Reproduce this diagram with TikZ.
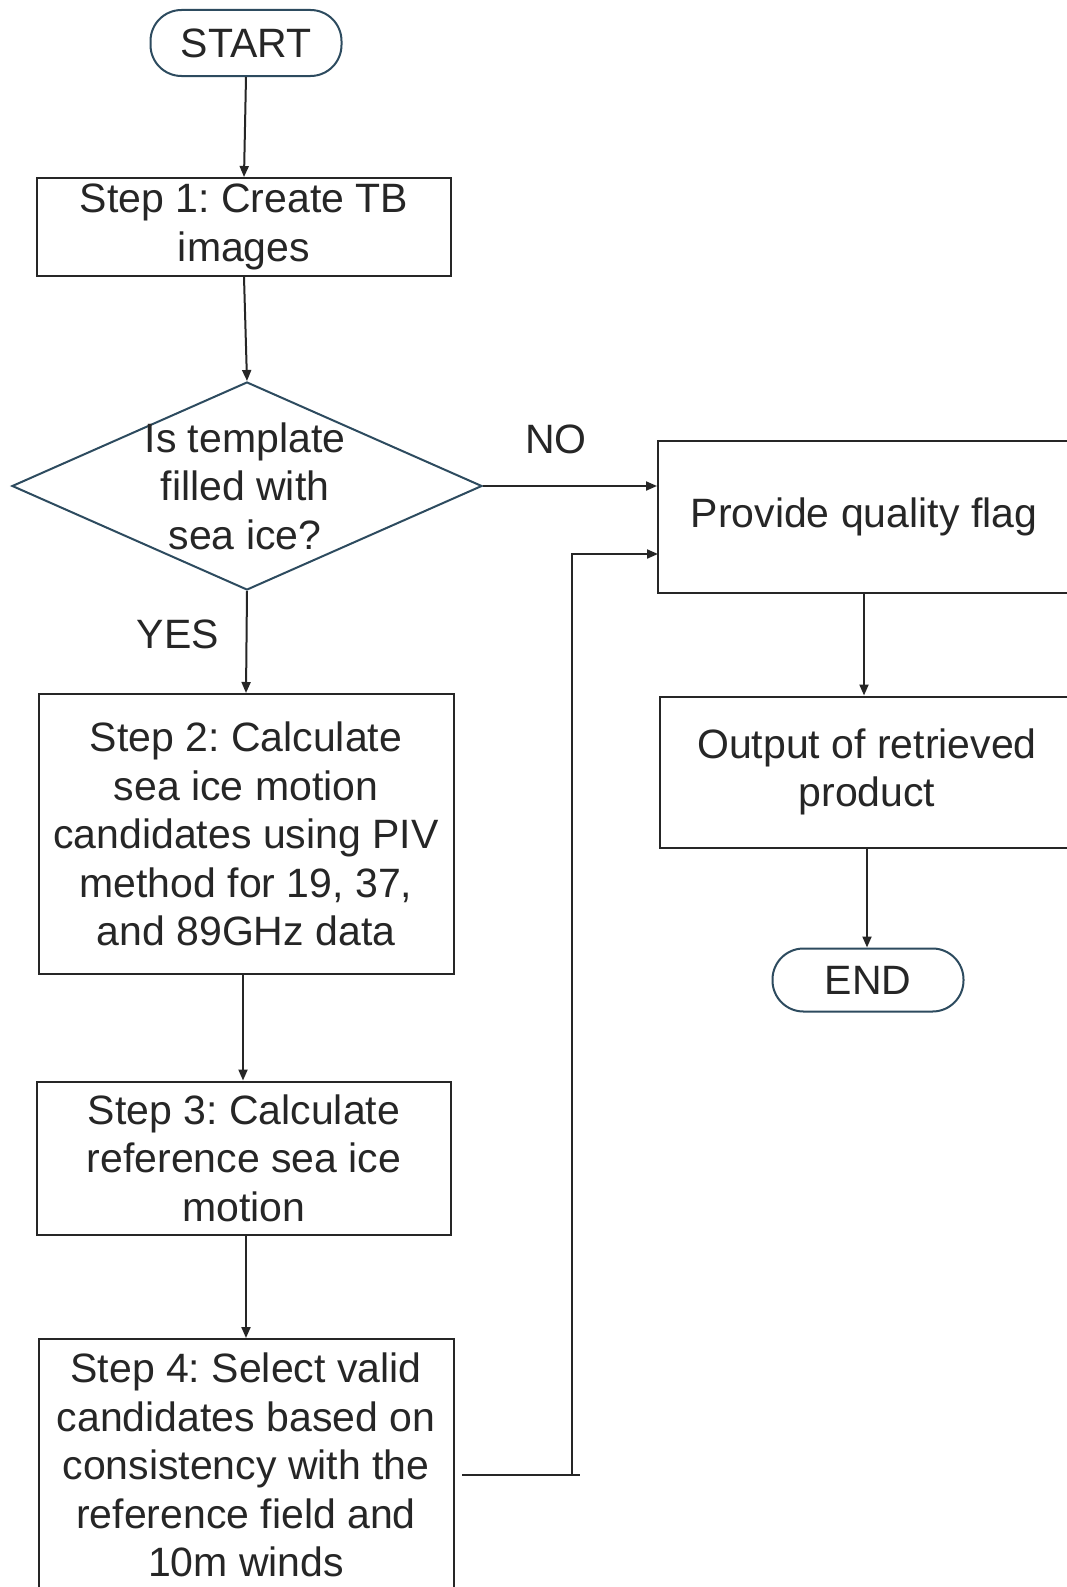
\documentclass[tikz,border=0pt]{standalone}
\usepackage{fontspec}
\setmainfont{Liberation Sans}
\usetikzlibrary{arrows.meta,shapes.geometric}
\definecolor{termcol}{RGB}{45,75,95}
\tikzset{
  base/.style={font=\fontsize{41}{48.4}\selectfont\frenchspacing, align=center, inner sep=0pt, text=black!85},
  proc/.style={base, draw=black!85, line width=2pt, minimum width=#1},
  term/.style={base, draw=termcol, line width=2pt, rounded corners=31pt, minimum width=191pt},
  decision/.style={draw=termcol, line width=2pt, shape=diamond, inner sep=0pt, minimum width=470pt, minimum height=208pt},
  conn/.style={line width=2pt, draw=black!85, -{Triangle[length=11pt,width=9pt]}},
  plain/.style={line width=2pt, draw=black!85},
  lbl/.style={base}
}
\begin{document}
\begin{tikzpicture}[x=1pt,y=-1pt]
\clip (0,0) rectangle (1067,1587);
\fill[white] (0,0) rectangle (1067,1587);
\node[term, minimum height=66pt] (start) at (246,43) {START};
\node[proc=414pt, minimum height=98pt] (s1) at (244,227) {Step 1: Create TB\\images};
\node[decision] (d) at (247,486) {};
\node[base] (dtext) at (245,486) {Is template\\filled with\\sea ice?};
\node[proc=415pt, minimum height=280pt] (s2) at (246,834) {Step 2: Calculate\\sea ice motion\\candidates using PIV\\method for 19, 37,\\and 89GHz data};
\node[proc=414pt, minimum height=153pt] (s3) at (244,1158) {Step 3: Calculate\\reference sea ice\\motion};
\node[proc=415pt, minimum height=252pt] (s4) at (246,1465) {Step 4: Select valid\\candidates based on\\consistency with the\\reference field and\\10m winds};
\node[proc=412pt, minimum height=152pt] (pqf) at (864,517) {Provide quality flag};
\node[proc=414pt, minimum height=151pt] (out) at (867,772) {Output of retrieved\\product};
\node[term, minimum height=63pt] (end) at (868,980) {END};
\node[lbl] (no) at (556,439) {NO};
\node[lbl] (yes) at (178,634) {YES};
\coordinate (loopstart) at (462,1475);
\coordinate (loopend) at (580,1475);
\coordinate (loopcorner) at (572,1475);
\coordinate (pqfin) at (658,554);
\draw[conn] (start.south) -- (s1.north);
\draw[conn] (s1.south) -- (d.north);
\draw[conn] (d.east) -- (d.east -| pqf.west);
\draw[conn] (d.south) -- (s2.north);
\draw[conn] ([xshift=-3pt]s2.south) -- ([xshift=-3pt]s2.south |- s3.north);
\draw[conn] ([xshift=2pt]s3.south) -- ([xshift=2pt]s3.south |- s4.north);
\draw[plain] (loopstart) -- (loopend);
\draw[conn] (loopcorner) |- (pqfin);
\draw[conn] (pqf.south) -- (pqf.south |- out.north);
\draw[conn] (out.south) -- (out.south |- end.north);
\end{tikzpicture}
\end{document}
